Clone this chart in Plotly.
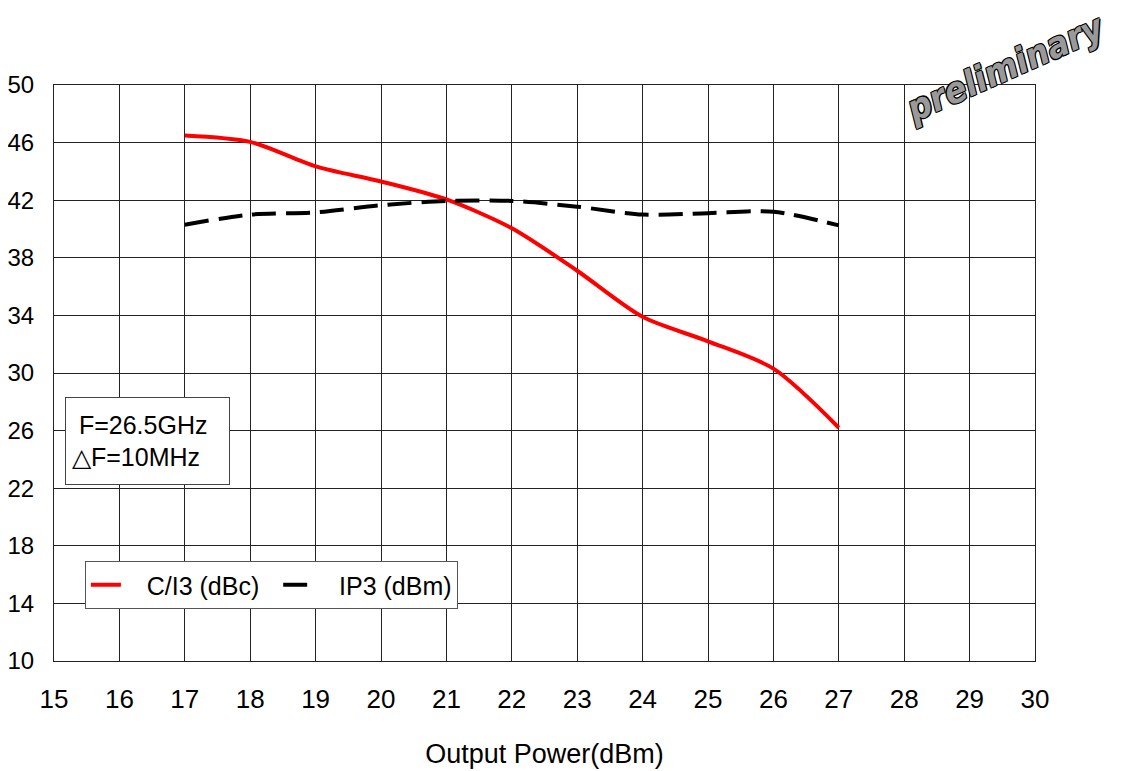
import plotly.graph_objects as go

x_power = [17, 18, 19, 20, 21, 22, 23, 24, 25, 26, 27]
ci3_dbc = [46.5, 46.05, 44.35, 43.3, 42.05, 40.05, 37.1, 33.9, 32.2, 30.3, 26.2]
ip3_dbm = [40.3, 41.0, 41.15, 41.65, 41.95, 41.95, 41.55, 41.0, 41.1, 41.2, 40.25]

x_ticks = list(range(15, 31))
y_ticks = list(range(10, 51, 4))

FONT = "Liberation Sans, Arial, sans-serif"
NB = "\u00a0"

fig = go.Figure()
fig.add_trace(go.Scatter(
    x=x_power, y=ci3_dbc, name=NB * 3 + "C/I3 (dBc)" + NB * 2, mode="lines",
    line=dict(color="#ff0000", width=4, shape="spline", smoothing=0.8),
))
fig.add_trace(go.Scatter(
    x=x_power, y=ip3_dbm, name=NB * 3 + "IP3 (dBm)", mode="lines",
    line=dict(color="#000000", width=4, dash="24px,10px", shape="spline", smoothing=0.8),
))

fig.update_layout(
    width=1127, height=771,
    margin=dict(l=46, r=100, t=77, b=118, autoexpand=False),
    paper_bgcolor="white", plot_bgcolor="white",
    font=dict(family=FONT, size=25, color="black"),
    showlegend=True,
    legend=dict(
        orientation="h", x=0.0315, y=0.1736, xanchor="left", yanchor="top",
        bgcolor="white", bordercolor="#555555", borderwidth=1,
        font=dict(family=FONT, size=25, color="black"),
        itemwidth=30, tracegroupgap=0,
    ),
    xaxis=dict(
        range=[15, 30], tickvals=x_ticks, ticktext=[str(v) for v in x_ticks],
        showgrid=True, gridcolor="#222222", gridwidth=1,
        showline=True, linecolor="#222222", linewidth=1, mirror=True,
        zeroline=False, ticks="", ticklabelstandoff=15, automargin=False,
        tickfont=dict(size=26),
        title=dict(text="Output Power(dBm)", font=dict(size=27), standoff=30),
    ),
    yaxis=dict(
        range=[10, 50], tickvals=y_ticks, ticktext=[str(v) for v in y_ticks],
        showgrid=True, gridcolor="#222222", gridwidth=1,
        showline=True, linecolor="#222222", linewidth=1, mirror=True,
        zeroline=False, ticks="", ticklabelstandoff=14, automargin=False,
        tickfont=dict(size=24),
    ),
)

# info box
fig.add_annotation(
    xref="paper", yref="paper", x=0.0112, y=0.458, xanchor="left", yanchor="top",
    text=NB + "F=26.5GHz<br>\u25b3F=10MHz", showarrow=False, align="left",
    font=dict(family=FONT, size=25, color="black"),
    bordercolor="#444444", borderwidth=1, bgcolor="white", borderpad=6,
    width=151, height=74,
)

# watermark
fig.add_annotation(
    xref="paper", yref="paper", x=0.97, y=1.03, xanchor="center", yanchor="middle",
    text="<b><i>preliminary</i></b>", showarrow=False, textangle=-24,
    font=dict(family="Liberation Sans Narrow, DejaVu Sans Condensed, Liberation Sans, sans-serif",
              size=36, color="#999999",
              shadow="1px 1px 0 #000, -1px -1px 0 #000, 1px -1px 0 #000, -1px 1px 0 #000"),
)

fig.write_html("out.html")
